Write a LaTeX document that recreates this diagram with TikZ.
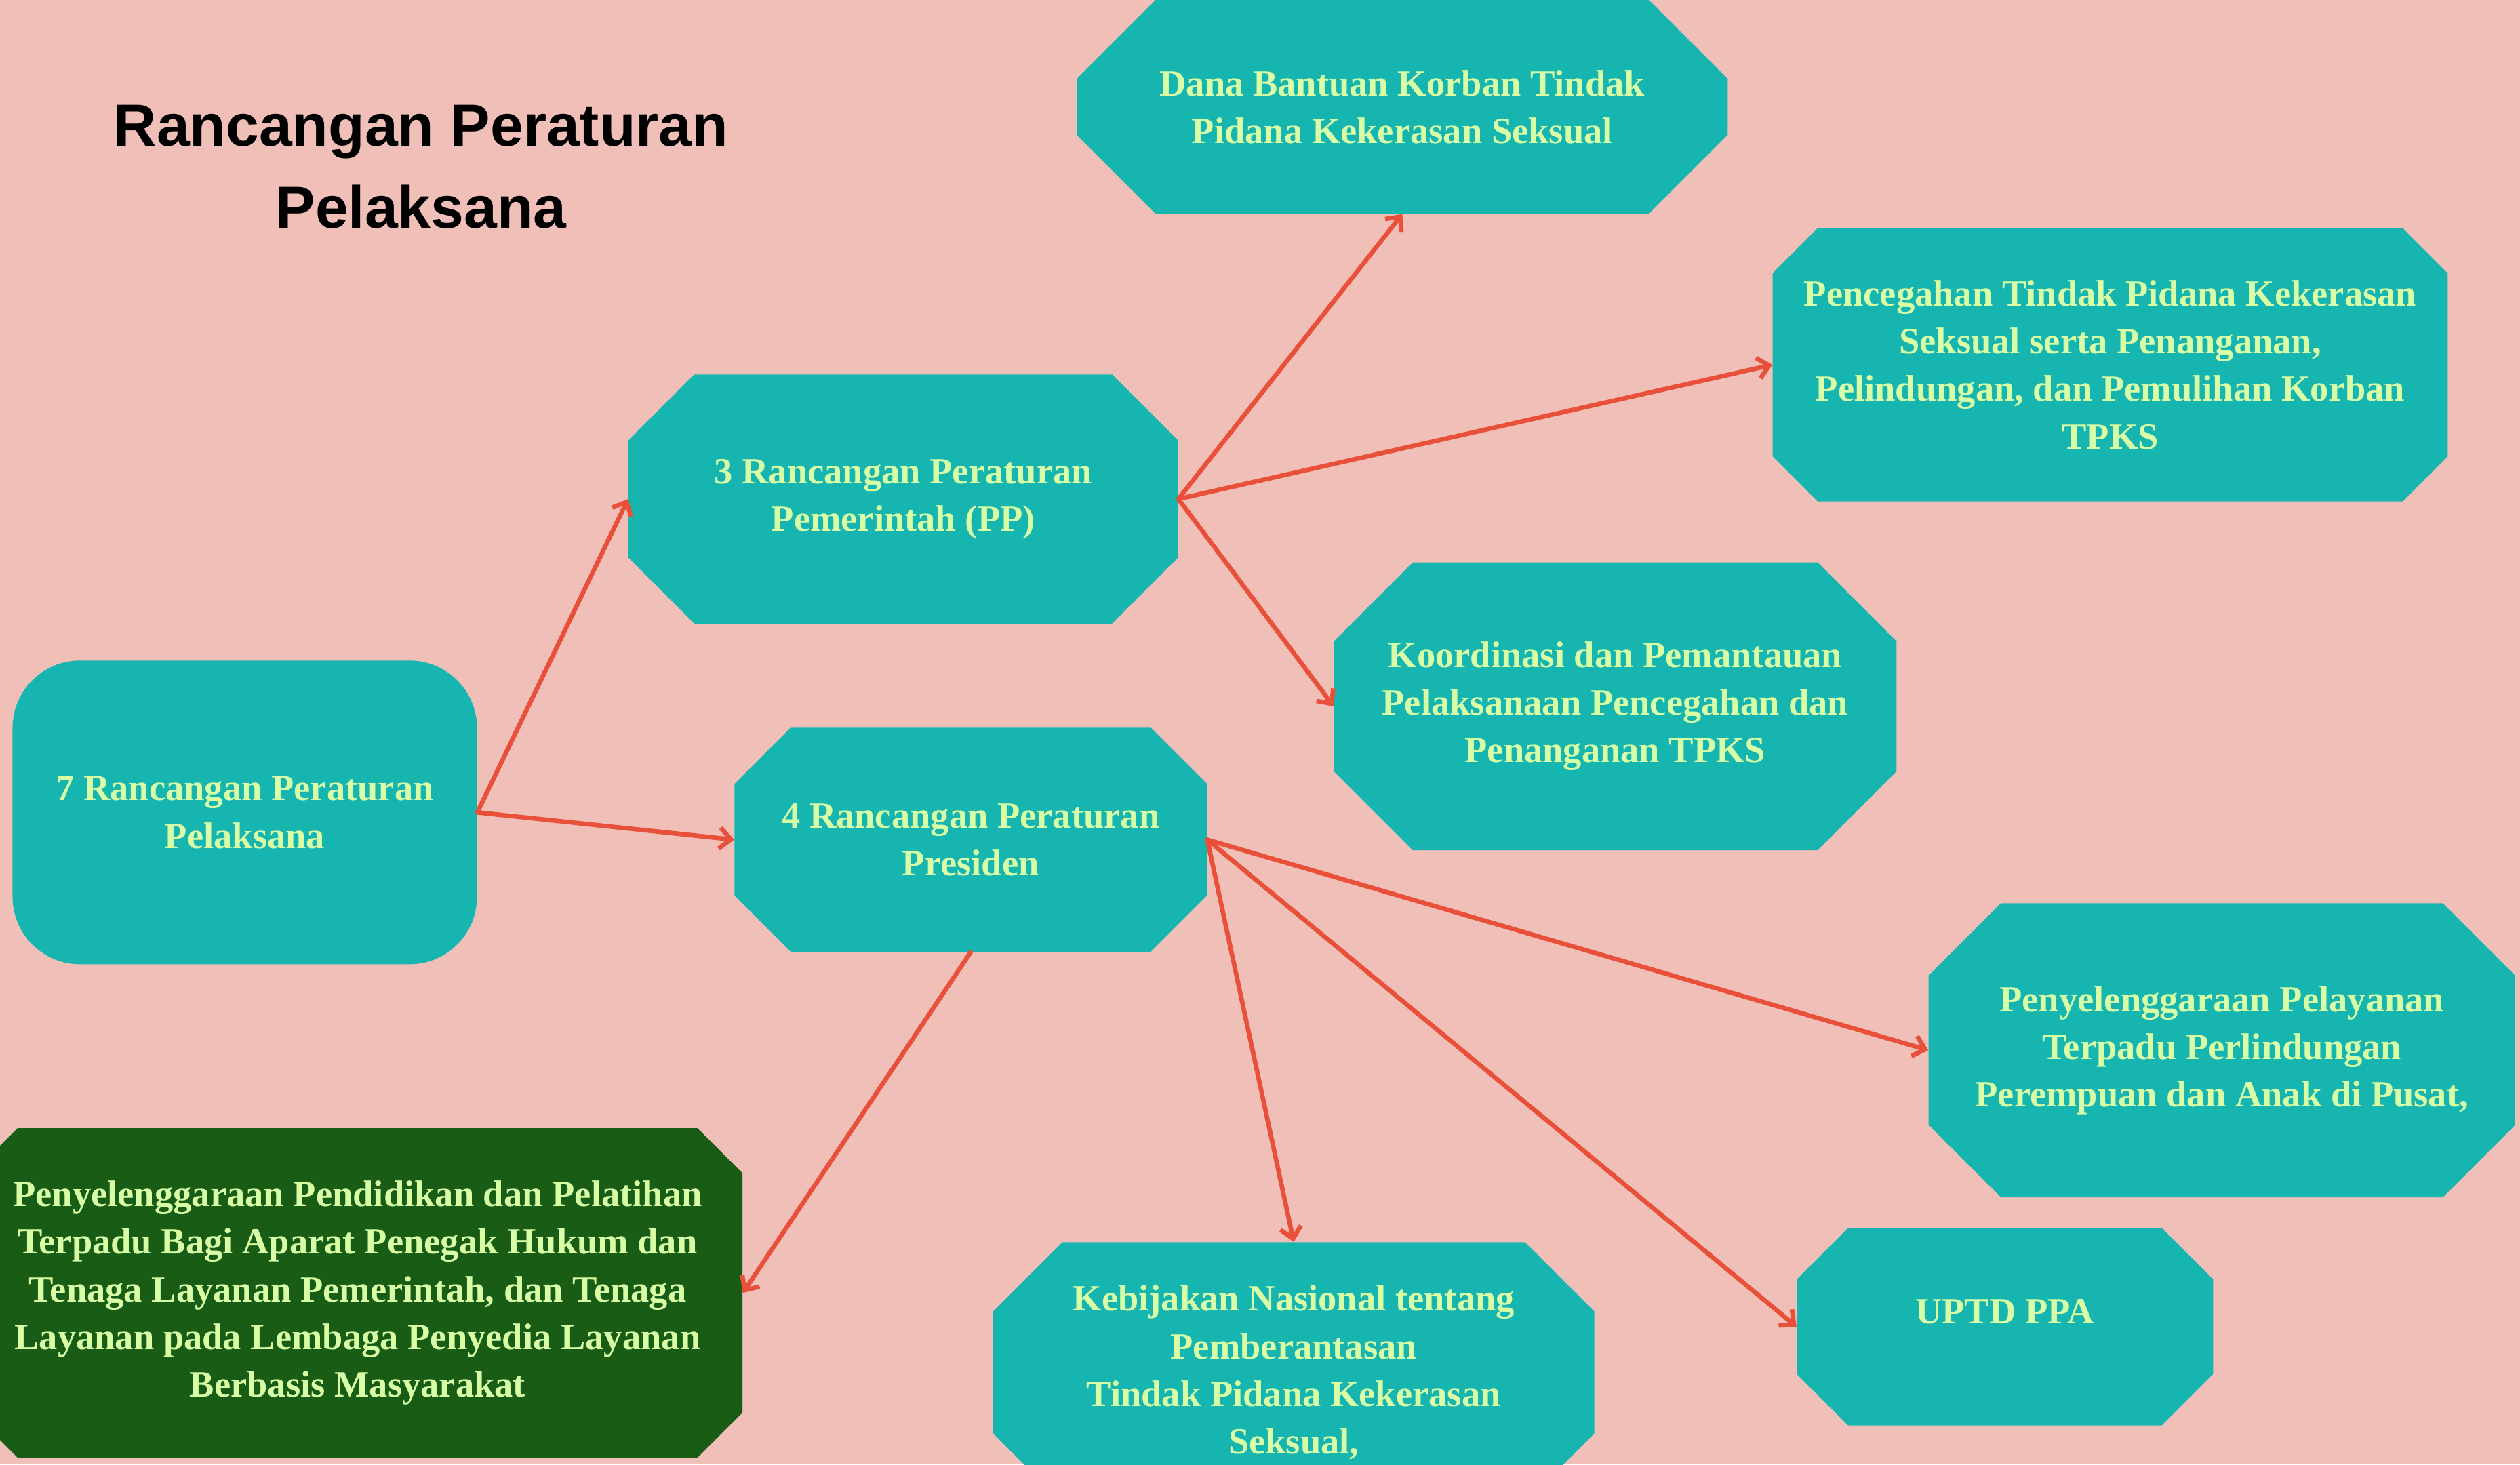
\documentclass[tikz,border=0pt]{standalone}
\usepackage{fontspec}
\usetikzlibrary{arrows.meta}

\newfontfamily\serifface{Liberation Serif}
\newfontfamily\sansface{Liberation Sans}
\newcommand\boxfnt{\serifface\bfseries\fontsize{23}{29.6}\selectfont}
\newcommand\titlefnt{\sansface\bfseries\fontsize{37}{51}\selectfont}

\definecolor{blush}{HTML}{F0BFB8}
\definecolor{tosca}{HTML}{17B5B0}
\definecolor{forest}{HTML}{185C16}
\definecolor{lime}{HTML}{D8FFA5}
\definecolor{arrowred}{HTML}{E8503A}

\begin{document}
\begin{tikzpicture}[x=1pt,y=-1pt,chamfer/.store in=\cutsize,boxtone/.store in=\tone,chamfer=30pt,boxtone=tosca]
        \tikzstyle{octa}=[inner sep=0pt,align=center,text=lime,font=\boxfnt,
          path picture={\fill[fill=\tone]
            ([xshift=\cutsize]path picture bounding box.north west) --
            ([xshift=-\cutsize]path picture bounding box.north east) --
            ([yshift=-\cutsize]path picture bounding box.north east) --
            ([yshift=\cutsize]path picture bounding box.south east) --
            ([xshift=-\cutsize]path picture bounding box.south east) --
            ([xshift=\cutsize]path picture bounding box.south west) --
            ([yshift=\cutsize]path picture bounding box.south west) --
            ([yshift=-\cutsize]path picture bounding box.north west) -- cycle;}]
        \tikzstyle{link}=[->,>={Straight Barb[length=7pt,width=13pt]},draw=arrowred,line width=2.8pt,line cap=round,line join=round]
        \useasboundingbox (0,0) rectangle (1568,911.2);
        \clip (0,0) rectangle (1568,911.2);
        \fill[blush] (0,0) rectangle (1568,911.2);

        \node[inner sep=0pt,align=center,font=\titlefnt] (judul) at (262,104) {Rancangan Peraturan\\Pelaksana};

        \node[inner sep=0pt,align=center,text=lime,font=\boxfnt,fill=tosca,rounded corners=42pt,
          minimum width=289pt,minimum height=189pt] (rpp) at (152.3,505.5) {7 Rancangan Peraturan\\Pelaksana};
        \node[octa,chamfer=41pt,minimum width=342pt,minimum height=155pt] (pp) at (562,310.5) {3 Rancangan Peraturan\\Pemerintah (PP)};
        \node[octa,chamfer=35pt,minimum width=294pt,minimum height=139.5pt] (perpres) at (604,522.5) {4 Rancangan Peraturan\\Presiden};

        \node[octa,chamfer=49pt,minimum width=405pt,minimum height=133pt] (dana) at (872.5,66.5) {Dana Bantuan Korban Tindak\\Pidana Kekerasan Seksual};
        \node[octa,chamfer=28pt,minimum width=420pt,minimum height=170pt] (cegah) at (1313,227) {Pencegahan Tindak Pidana Kekerasan\\Seksual serta Penanganan,\\Pelindungan, dan Pemulihan Korban\\TPKS};
        \node[octa,chamfer=49pt,minimum width=350pt,minimum height=179pt] (koordinasi) at (1005,439.5) {Koordinasi dan Pemantauan\\Pelaksanaan Pencegahan dan\\Penanganan TPKS};

        \node[octa,chamfer=45pt,minimum width=365pt,minimum height=183pt] (layanan) at (1382.5,653.5) {Penyelenggaraan Pelayanan\\Terpadu Perlindungan\\Perempuan dan Anak di Pusat,};
        \node[octa,chamfer=32pt,minimum width=259pt,minimum height=123pt,text depth=19pt] (uptd) at (1247.5,825.5) {UPTD PPA};
        \node[octa,chamfer=43pt,minimum width=374pt,minimum height=162pt] (kebijakan) at (805,854) {Kebijakan Nasional tentang\\Pemberantasan\\Tindak Pidana Kekerasan\\Seksual,};
        \node[octa,chamfer=28pt,boxtone=forest,minimum width=479pt,minimum height=205pt] (diklat) at (222.5,804.5) {Penyelenggaraan Pendidikan dan Pelatihan\\Terpadu Bagi Aparat Penegak Hukum dan\\Tenaga Layanan Pemerintah, dan Tenaga\\Layanan pada Lembaga Penyedia Layanan\\Berbasis Masyarakat};

        \draw[link] (rpp.east) -- (pp.west);
        \draw[link] (rpp.east) -- (perpres.west);
        \draw[link] (pp.east) -- (dana.south);
        \draw[link] (pp.east) -- (cegah.west);
        \draw[link] (pp.east) -- (koordinasi.west);
        \draw[link] (perpres.east) -- (layanan.west);
        \draw[link] (perpres.east) -- (uptd.west);
        \draw[link] (perpres.east) -- (kebijakan.north);
        \draw[link] (perpres.south) -- (diklat.east);
\end{tikzpicture}
\end{document}
